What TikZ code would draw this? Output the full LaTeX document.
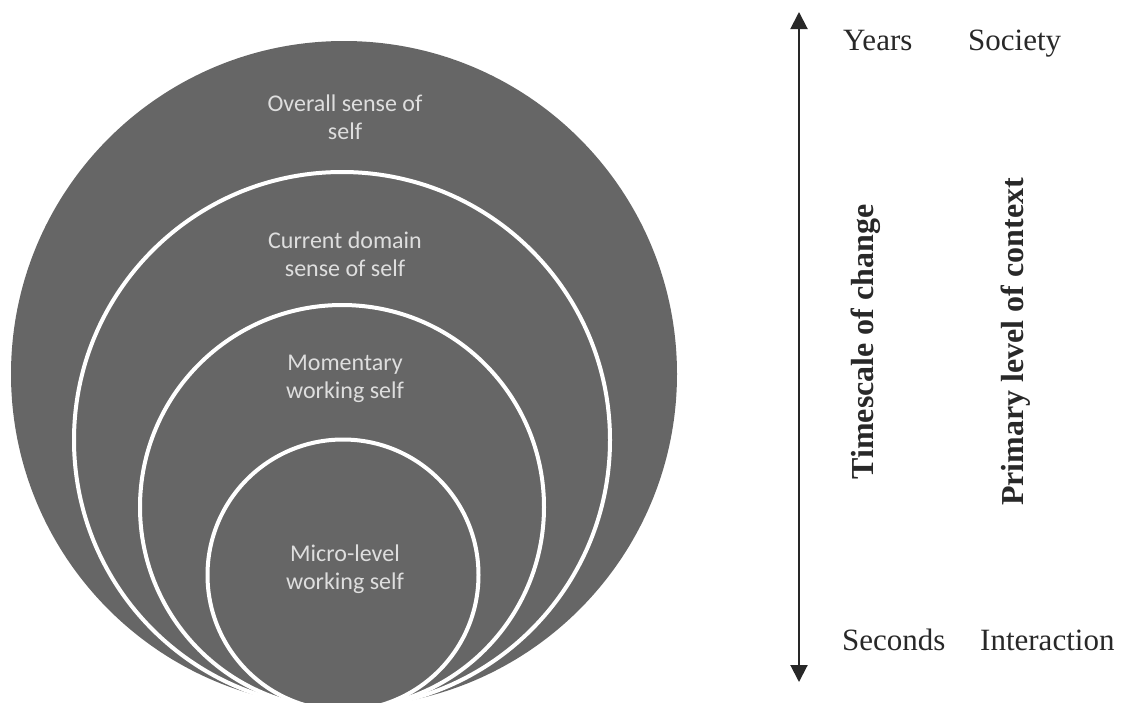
\documentclass[tikz,border=0pt]{standalone}
\usepackage{fontspec}
\setmainfont{Liberation Serif}
\newfontfamily\calib{Carlito}
\usetikzlibrary{arrows.meta}
\definecolor{circfill}{RGB}{102,102,102}
\definecolor{circtext}{RGB}{222,222,222}
\definecolor{darktext}{RGB}{40,40,40}
\begin{document}
\begin{tikzpicture}[x=1pt,y=-1pt,
  circ/.style={circle,fill=circfill,draw=white,line width=4pt,inner sep=0pt},
  ctext/.style={text=circtext,font=\calib\fontsize{24}{28}\selectfont,align=center,inner sep=0pt},
  rtext/.style={text=darktext,font=\fontsize{31}{36}\selectfont,inner sep=0pt,anchor=base west},
  vtext/.style={text=darktext,font=\bfseries\fontsize{32}{36}\selectfont,inner sep=0pt,rotate=90},
  axis/.style={line width=2pt,draw=darktext,{Triangle[length=17pt,width=17pt]}-{Triangle[length=17pt,width=17pt]}}]
\useasboundingbox (0,0) rectangle (1130,702);
\begin{scope}
\clip (0,0) rectangle (1130,702);
\node[circ,draw=none,minimum size=666pt] (c1) at (344,374) {};
\node[circ,minimum size=536pt] (c2) at (342,440) {};
\node[circ,minimum size=404pt] (c3) at (342,507) {};
\node[circ,minimum size=271pt] (c4) at (343,575) {};
\end{scope}
\node[ctext] (t1) at (345,117) {Overall sense of\\self};
\node[ctext] (t2) at (345,254) {Current domain\\sense of self};
\node[ctext] (t3) at (345,379) {Momentary\\working self};
\node[ctext] (t4) at (345,569) {Micro-level\\working self};
\coordinate (atop) at (799,12);
\coordinate (abot) at (799,682);
\draw[axis] (atop) -- (abot);
\node[rtext] (years) at (843,50) {Years};
\node[rtext] (society) at (968,50) {Society};
\node[rtext] (seconds) at (842,650) {Seconds};
\node[rtext] (inter) at (980,650) {Interaction};
\node[vtext] (tsc) at (866,342) {Timescale of change};
\node[vtext] (plc) at (1016,342) {Primary level of context};
\end{tikzpicture}
\end{document}
